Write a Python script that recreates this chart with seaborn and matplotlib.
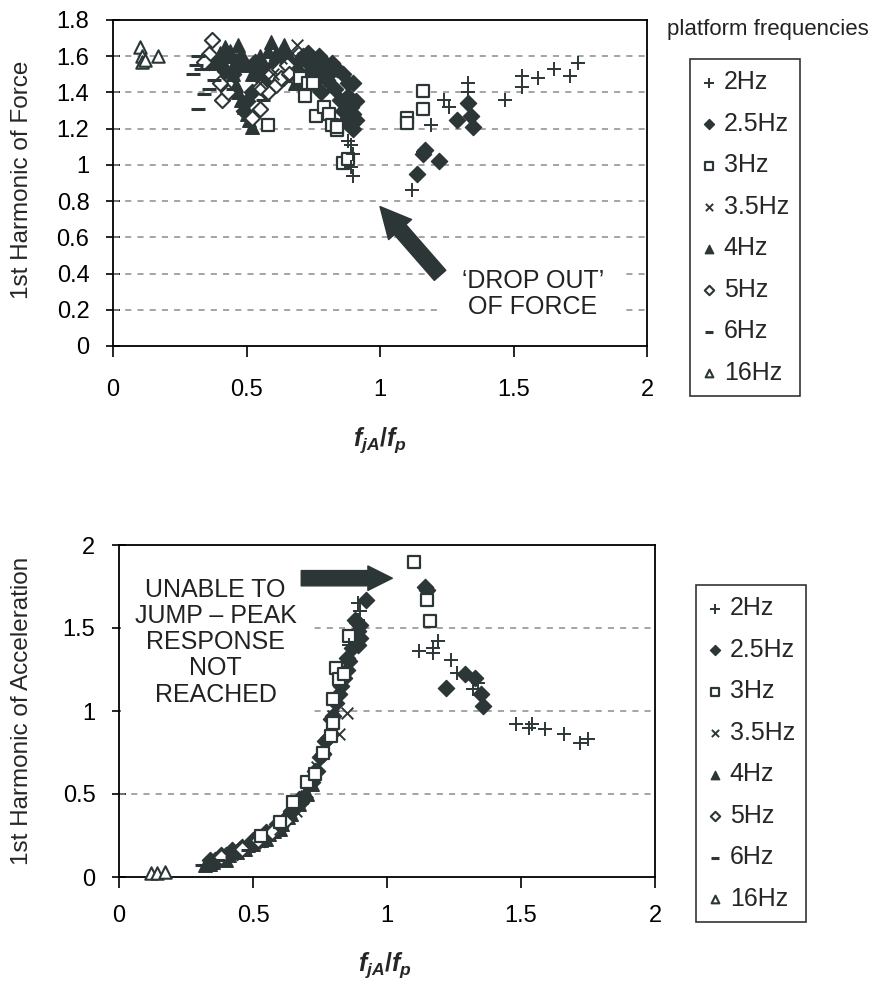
import matplotlib
matplotlib.use("Agg")
import matplotlib.pyplot as plt
import seaborn as sns
from matplotlib.ticker import FuncFormatter

# ---------------- data ----------------
series_labels = ["2Hz", "2.5Hz", "3Hz", "3.5Hz", "4Hz", "5Hz", "6Hz", "16Hz"]

# Top panel: 1st harmonic of force vs f_jA/f_p
force_2_x = [0.89, 0.90, 0.89, 0.90, 0.88, 1.12, 1.16, 1.19, 1.24, 1.26, 1.33, 1.33, 1.47, 1.53, 1.53, 1.59, 1.65, 1.71, 1.74]
force_2_y = [1.11, 1.06, 0.99, 0.94, 1.13, 0.86, 1.07, 1.22, 1.36, 1.32, 1.45, 1.40, 1.36, 1.49, 1.43, 1.48, 1.53, 1.49, 1.56]

force_25_x = [0.40, 0.45, 0.49, 0.50, 0.52, 0.55, 0.58, 0.62, 0.68, 0.70, 0.72, 0.74, 0.75, 0.76, 0.78, 0.78, 0.80, 0.80, 0.82, 0.83,
              0.84, 0.85, 0.86, 0.86, 0.87, 0.88, 0.88, 0.89, 0.90, 0.90, 0.91, 0.91, 0.90,
              0.36, 0.42, 0.47, 0.53, 0.57, 0.60, 0.64, 0.66, 0.71, 0.73, 0.77, 0.79, 0.81,
              1.14, 1.16, 1.17, 1.22, 1.29, 1.33, 1.34, 1.35]
force_25_y = [1.55, 1.50, 1.30, 1.35, 1.40, 1.48, 1.45, 1.52, 1.55, 1.50, 1.58, 1.52, 1.45, 1.56, 1.50, 1.40, 1.54, 1.47, 1.56, 1.42,
              1.53, 1.36, 1.50, 1.30, 1.24, 1.45, 1.38, 1.32, 1.45, 1.20, 1.35, 1.25, 1.28,
              1.57, 1.52, 1.55, 1.57, 1.53, 1.47, 1.55, 1.50, 1.60, 1.62, 1.60, 1.57, 1.50,
              0.95, 1.06, 1.08, 1.02, 1.25, 1.34, 1.27, 1.21]

force_3_x = [0.58, 0.70, 0.73, 0.75, 0.76, 0.72, 0.79, 0.81, 0.82, 0.84, 0.84, 0.86, 0.88, 1.10, 1.10, 1.16, 1.16]
force_3_y = [1.22, 1.48, 1.45, 1.45, 1.27, 1.38, 1.32, 1.28, 1.22, 1.19, 1.21, 1.01, 1.03, 1.26, 1.23, 1.41, 1.31]

force_35_x = [0.69, 0.67, 0.63, 0.71, 0.60, 0.66, 0.72, 0.74, 0.55, 0.78]
force_35_y = [1.66, 1.62, 1.59, 1.59, 1.50, 1.47, 1.52, 1.45, 1.45, 1.42]

force_4_x = [0.36, 0.38, 0.40, 0.42, 0.43, 0.44, 0.46, 0.47, 0.48, 0.49, 0.50, 0.52, 0.54, 0.55, 0.56, 0.58, 0.59, 0.60, 0.61, 0.62,
             0.63, 0.64, 0.66, 0.67, 0.69, 0.70, 0.72, 0.45, 0.46, 0.47, 0.48, 0.49, 0.50, 0.51, 0.52, 0.57, 0.65, 0.68]
force_4_y = [1.56, 1.58, 1.62, 1.65, 1.60, 1.63, 1.58, 1.66, 1.62, 1.57, 1.55, 1.50, 1.52, 1.60, 1.56, 1.63, 1.68, 1.58, 1.62, 1.55,
             1.63, 1.66, 1.60, 1.57, 1.55, 1.50, 1.48, 1.50, 1.44, 1.40, 1.36, 1.32, 1.28, 1.25, 1.21, 1.47, 1.52, 1.45]

force_5_x = [0.37, 0.36, 0.34, 0.41, 0.43, 0.52, 0.55, 0.57, 0.58, 0.59, 0.61, 0.62, 0.63, 0.65, 0.66, 0.55, 0.40]
force_5_y = [1.69, 1.61, 1.57, 1.36, 1.40, 1.26, 1.31, 1.41, 1.40, 1.50, 1.44, 1.53, 1.48, 1.55, 1.50, 1.43, 1.45]

force_6_x = [0.30, 0.31, 0.32, 0.33, 0.34, 0.36, 0.32, 0.45, 0.56, 0.38]
force_6_y = [1.50, 1.55, 1.60, 1.53, 1.39, 1.42, 1.31, 1.42, 1.36, 1.47]

force_16_x = [0.10, 0.11, 0.11, 0.12, 0.17]
force_16_y = [1.65, 1.60, 1.57, 1.58, 1.60]

# Bottom panel: 1st harmonic of acceleration vs f_jA/f_p
acc_2_x = [0.89, 0.89, 0.90, 0.86, 1.12, 1.17, 1.19, 1.17, 1.24, 1.26, 1.32, 1.34, 1.48, 1.54, 1.53, 1.59, 1.66, 1.72, 1.75]
acc_2_y = [1.65, 1.55, 1.60, 1.40, 1.36, 1.35, 1.42, 1.38, 1.31, 1.23, 1.13, 1.17, 0.92, 0.92, 0.90, 0.89, 0.86, 0.81, 0.83]

acc_25_x = [0.36, 0.40, 0.44, 0.48, 0.52, 0.56, 0.60, 0.63, 0.66, 0.69, 0.72, 0.74, 0.76, 0.78, 0.80, 0.82, 0.84, 0.85, 0.86, 0.87,
            0.88, 0.89, 0.90, 0.90, 0.92, 0.45, 0.54, 0.58, 0.62, 0.68, 0.75, 0.79, 0.83, 0.88,
            0.34, 0.38, 0.42, 0.46, 0.50, 0.55, 0.59, 0.64, 0.67, 0.71, 0.73, 0.77, 0.81, 0.85, 0.89,
            1.14, 1.15, 1.22, 1.29, 1.33, 1.35, 1.36]
acc_25_y = [0.10, 0.13, 0.15, 0.18, 0.21, 0.26, 0.30, 0.36, 0.42, 0.48, 0.57, 0.64, 0.74, 0.84, 0.97, 1.10, 1.20, 1.25, 1.30, 1.38,
            1.42, 1.48, 1.52, 1.44, 1.67, 0.17, 0.23, 0.28, 0.35, 0.45, 0.72, 0.95, 1.15, 1.55,
            0.10, 0.13, 0.16, 0.18, 0.22, 0.27, 0.32, 0.40, 0.47, 0.56, 0.64, 0.82, 1.05, 1.32, 1.40,
            1.75, 1.73, 1.14, 1.22, 1.20, 1.10, 1.03]

acc_3_x = [0.53, 0.60, 0.65, 0.70, 0.73, 0.76, 0.79, 0.80, 0.80, 0.81, 0.82, 0.84, 0.86, 1.10, 1.15, 1.16]
acc_3_y = [0.25, 0.33, 0.45, 0.57, 0.62, 0.75, 0.85, 0.93, 1.07, 1.26, 1.19, 1.22, 1.45, 1.90, 1.67, 1.54]

acc_35_x = [0.60, 0.66, 0.70, 0.74, 0.77, 0.80, 0.82, 0.85, 0.88]
acc_35_y = [0.29, 0.40, 0.51, 0.66, 0.78, 0.97, 0.86, 0.99, 1.50]

acc_4_x = [0.32, 0.35, 0.38, 0.41, 0.44, 0.47, 0.50, 0.53, 0.56, 0.58, 0.61, 0.64, 0.67, 0.70, 0.72, 0.40, 0.48, 0.55, 0.60, 0.63, 0.68,
           0.34, 0.37, 0.43, 0.46, 0.52, 0.57, 0.62, 0.66]
acc_4_y = [0.07, 0.09, 0.11, 0.13, 0.15, 0.17, 0.20, 0.22, 0.26, 0.28, 0.32, 0.38, 0.44, 0.50, 0.56, 0.10, 0.19, 0.23, 0.29, 0.36, 0.48,
           0.08, 0.11, 0.15, 0.17, 0.23, 0.28, 0.37, 0.45]

acc_5_x = [0.38, 0.46, 0.52, 0.57, 0.62]
acc_5_y = [0.12, 0.17, 0.22, 0.27, 0.34]

acc_6_x = [0.31, 0.34, 0.37, 0.42, 0.48]
acc_6_y = [0.07, 0.08, 0.10, 0.12, 0.16]

acc_16_x = [0.12, 0.14, 0.17]
acc_16_y = [0.025, 0.025, 0.03]

force_top_ticks = [0, 0.2, 0.4, 0.6, 0.8, 1, 1.2, 1.4, 1.6, 1.8]
acc_ticks = [0, 0.5, 1, 1.5, 2]
x_ticks = [0, 0.5, 1, 1.5, 2]

# ---------------- style ----------------
sns.set_style("white")
plt.rcParams["font.family"] = ["Liberation Sans", "DejaVu Sans"]
plt.rcParams["mathtext.fontset"] = "custom"
plt.rcParams["mathtext.it"] = "Liberation Sans:italic:bold"
plt.rcParams["mathtext.rm"] = "Liberation Sans:bold"

DARK = "#2d3636"
GRID = "#8c8c8c"

# marker spec per series: (marker, size, face, edge, lw)
marker_spec = [
    ("+", 110, DARK, None, 1.4),
    ("D", 68, DARK, DARK, 1.0),
    ("s", 70, "white", DARK, 1.6),
    ("x", 70, DARK, None, 1.4),
    ("^", 95, DARK, DARK, 1.0),
    ("D", 60, "white", DARK, 1.5),
    ("_", 90, DARK, None, 2.2),
    ("^", 80, "white", DARK, 1.5),
]

fig = plt.figure(figsize=(8.82, 9.84), dpi=100)
W, H = 882.0, 984.0
ax1 = fig.add_axes([113 / W, 1 - 346 / H, (647 - 113) / W, (346 - 20) / H])
ax2 = fig.add_axes([119 / W, 1 - 877 / H, (655 - 119) / W, (877 - 545) / H])

top_data = [(force_2_x, force_2_y), (force_25_x, force_25_y), (force_3_x, force_3_y), (force_35_x, force_35_y),
            (force_4_x, force_4_y), (force_5_x, force_5_y), (force_6_x, force_6_y), (force_16_x, force_16_y)]
bot_data = [(acc_2_x, acc_2_y), (acc_25_x, acc_25_y), (acc_3_x, acc_3_y), (acc_35_x, acc_35_y),
            (acc_4_x, acc_4_y), (acc_5_x, acc_5_y), (acc_6_x, acc_6_y), (acc_16_x, acc_16_y)]

draw_order = [4, 1, 5, 3, 2, 0, 6, 7]


def draw(ax, data):
    for i in draw_order:
        xs, ys = data[i]
        m, s, face, edge, lw = marker_spec[i]
        kws = dict(x=xs, y=ys, marker=m, s=s, ax=ax, label=series_labels[i], linewidth=lw, zorder=3,
                   color=face, clip_on=False)
        if edge is not None:
            kws["edgecolor"] = edge
        sns.scatterplot(**kws)
    h, l = ax.get_legend_handles_labels()
    order = [l.index(lab) for lab in series_labels]
    return [h[k] for k in order], [l[k] for k in order]


def style_axes(ax, yticks):
    ax.set_xlim(0, 2)
    ax.set_ylim(yticks[0], yticks[-1])
    ax.set_xticks(x_ticks)
    ax.set_yticks(yticks)
    fmt = FuncFormatter(lambda v, p: "%g" % v)
    ax.xaxis.set_major_formatter(fmt)
    ax.yaxis.set_major_formatter(fmt)
    for sp in ax.spines.values():
        sp.set_visible(True)
        sp.set_color("black")
        sp.set_linewidth(1.3)
    ax.tick_params(axis="y", direction="inout", length=10, width=1.2, pad=12, labelsize=17, colors="black", left=True)
    ax.tick_params(axis="x", direction="out", length=8, width=1.2, labelsize=17, colors="black", bottom=True)
    for v in yticks[1:-1]:
        ax.axhline(v, color=GRID, lw=1.1, ls=(0, (4, 4)), zorder=1)
    ax.set_xlabel("")
    ax.set_ylabel("")


def make_legend(ax, h, l, anchor):
    leg = ax.legend(h, l, loc="upper left", bbox_to_anchor=anchor,
                    bbox_transform=fig.transFigure, fontsize=18, markerscale=0.62,
                    handlelength=0.6, handletextpad=0.3, labelspacing=0.70, borderpad=0.45,
                    borderaxespad=0, frameon=True, fancybox=False)
    leg.get_frame().set_edgecolor("black")
    leg.get_frame().set_linewidth(1.2)
    return leg


# ---------------- top panel ----------------
h1, l1 = draw(ax1, top_data)
style_axes(ax1, force_top_ticks)
ax1.tick_params(axis="x", pad=16)
ax1.text(1.573, 0.287, "\u2018DROP OUT\u2019\nOF FORCE", ha="center", va="center", fontsize=18,
         linespacing=1.1, color="#222222", zorder=4,
         bbox=dict(facecolor="white", edgecolor="none", pad=14))
ax1.annotate("", xy=(1.0, 0.77), xytext=(1.225, 0.39),
             arrowprops=dict(arrowstyle="simple,head_length=1.0,head_width=1.0,tail_width=0.5",
                             color=DARK, mutation_scale=22, shrinkA=0, shrinkB=0), zorder=5)
make_legend(ax1, h1, l1, (690 / W, 1 - 59 / H))

# ---------------- bottom panel ----------------
h2, l2 = draw(ax2, bot_data)
style_axes(ax2, acc_ticks)
ax2.tick_params(axis="x", pad=12)
ax2.text(0.36, 1.415, "UNABLE TO\nJUMP \u2013 PEAK\nRESPONSE\nNOT\nREACHED", ha="center", va="center",
         fontsize=18, linespacing=1.12, color="#222222", zorder=4,
         bbox=dict(facecolor="white", edgecolor="none", pad=10))
ax2.annotate("", xy=(1.02, 1.80), xytext=(0.68, 1.80),
             arrowprops=dict(arrowstyle="simple,head_length=0.8,head_width=0.8,tail_width=0.5",
                             color=DARK, mutation_scale=22, shrinkA=0, shrinkB=0), zorder=5)
make_legend(ax2, h2, l2, (696 / W, 1 - 585 / H))

# ---------------- figure texts ----------------
fig.text(667 / W, 1 - 30 / H, "platform frequencies", fontsize=16, ha="left", va="center", color="#222222")
fig.text(22 / W, 1 - 180 / H, "1st Harmonic of Force", fontsize=17.5, rotation=90, ha="center", va="center")
fig.text(22 / W, 1 - 711 / H, "1st Harmonic of Acceleration", fontsize=17.5, rotation=90, ha="center", va="center")
fig.text(380 / W, 1 - 440 / H, r"$f_{jA}/f_p$", fontsize=18, ha="center", va="center")
fig.text(385 / W, 1 - 965 / H, r"$f_{jA}/f_p$", fontsize=18, ha="center", va="center")

fig.savefig("out.png", dpi=100, facecolor="white")
